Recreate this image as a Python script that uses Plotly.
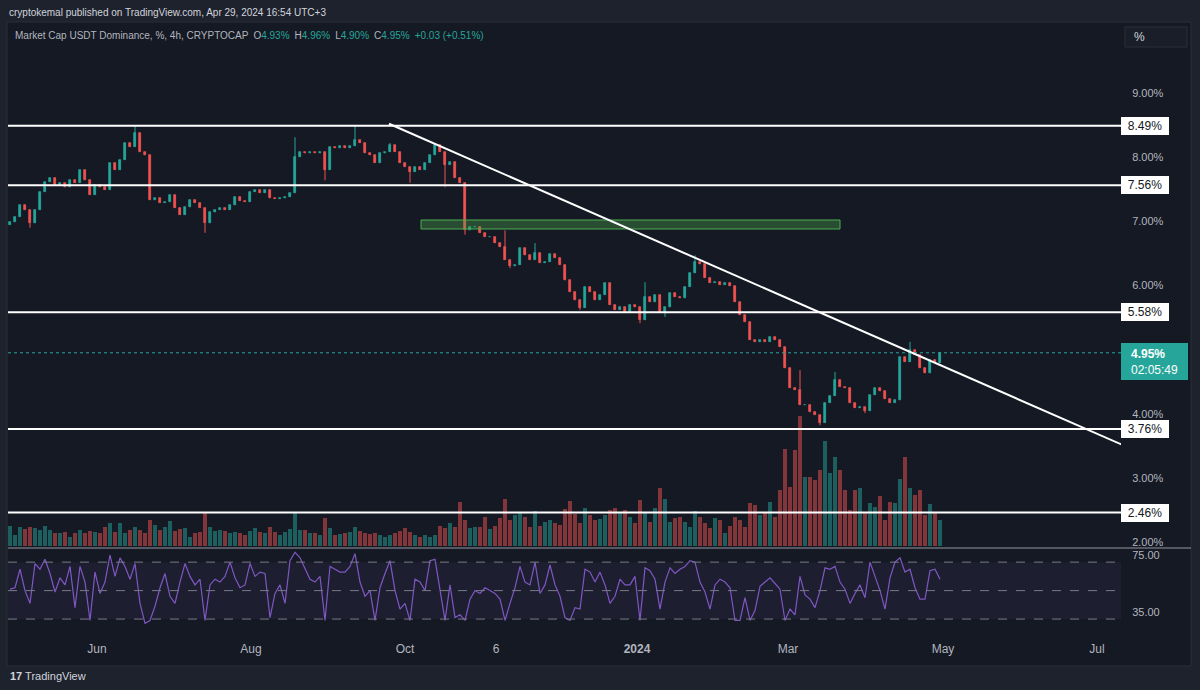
import plotly.graph_objects as go

W, H = 1200, 690
BG = "#151924"
OUTER = "#1e222d"
UP = "#26a69a"
DOWN = "#ef5350"
UP_VOL = "rgba(38,166,154,0.5)"
DOWN_VOL = "rgba(239,83,80,0.5)"
TEXT = "#b2b5be"
FONT = "Liberation Sans, Arial, sans-serif"

# ---------------- data ----------------
first_open = 6.95
closes = [
    6.99, 7.07, 7.25, 7.18, 6.97, 7.18, 7.46, 7.61, 7.68, 7.57,
    7.60, 7.53, 7.64, 7.60, 7.80, 7.64, 7.41, 7.57, 7.53, 7.49,
    7.91, 7.80, 7.96, 8.22, 8.16, 8.38, 8.08, 8.03, 7.33, 7.36,
    7.29, 7.30, 7.41, 7.21, 7.10, 7.22, 7.33, 7.29, 7.21, 6.97,
    7.14, 7.18, 7.21, 7.18, 7.25, 7.38, 7.32, 7.30, 7.46, 7.49,
    7.44, 7.49, 7.36, 7.35, 7.36, 7.38, 7.44, 8.00, 8.08, 8.06,
    8.08, 8.06, 8.08, 7.80, 8.16, 8.14, 8.17, 8.14, 8.17, 8.27,
    8.22, 8.06, 8.03, 7.91, 8.06, 8.08, 8.19, 8.08, 7.91, 7.85,
    7.77, 7.85, 7.80, 7.91, 8.03, 8.19, 8.08, 7.88, 7.92, 7.68,
    7.60, 6.86, 6.91, 6.91, 6.82, 6.76, 6.76, 6.66, 6.60, 6.40,
    6.30, 6.32, 6.58, 6.47, 6.40, 6.51, 6.35, 6.37, 6.49, 6.43,
    6.32, 6.08, 5.90, 5.77, 5.65, 5.98, 5.90, 5.77, 5.85, 6.04,
    5.70, 5.62, 5.66, 5.59, 5.70, 5.66, 5.46, 5.82, 5.74, 5.85,
    5.59, 5.66, 5.88, 5.82, 5.80, 5.98, 6.19, 6.37, 6.33, 6.12,
    6.04, 6.05, 6.01, 6.04, 5.99, 5.74, 5.54, 5.43, 5.15, 5.12,
    5.15, 5.12, 5.20, 5.15, 5.04, 4.71, 4.40, 4.37, 4.14, 4.14,
    4.03, 3.98, 3.86, 4.17, 4.28, 4.53, 4.42, 4.40, 4.17, 4.09,
    4.10, 4.04, 4.29, 4.40, 4.35, 4.23, 4.17, 4.21, 4.88, 4.81,
    4.99, 4.92, 4.71, 4.63, 4.84, 4.79, 4.95,
]
wick_highs = {25: 8.50, 57: 8.31, 69: 8.50, 76: 8.22, 85: 8.22, 99: 6.86,
              105: 6.66, 127: 6.05, 137: 6.47, 158: 4.68, 165: 4.65, 180: 5.12}
wick_lows = {4: 6.90, 39: 6.82, 63: 7.64, 80: 7.60, 87: 7.53, 91: 6.79,
             100: 6.27, 114: 5.62, 126: 5.41, 131: 5.51, 162: 3.82, 171: 4.01}
volumes = [
    20, 11, 19, 17, 19, 18, 16, 20, 16, 13,
    13, 14, 9, 13, 16, 13, 15, 14, 13, 19,
    23, 14, 23, 13, 16, 19, 16, 13, 26, 21,
    16, 19, 25, 15, 17, 18, 9, 13, 14, 33,
    19, 15, 16, 15, 13, 14, 13, 11, 15, 18,
    14, 13, 19, 14, 11, 14, 17, 34, 16, 16,
    13, 13, 11, 28, 18, 11, 12, 13, 14, 19,
    15, 13, 12, 13, 11, 9, 11, 13, 15, 18,
    14, 11, 9, 11, 9, 11, 20, 18, 23, 19,
    44, 26, 18, 19,
    19, 29, 17, 20, 28, 47, 26, 31, 34, 29,
    19, 35, 20, 24, 26, 23, 21, 37, 45, 32,
    23, 38, 31, 26, 27, 31, 36, 38, 34, 36,
    29, 23, 46, 34, 24, 38, 58, 47, 24, 28,
    29, 24, 19, 35, 29, 23, 18, 28, 26, 13,
    20, 29, 26,
    19, 43, 41, 31, 33, 44, 29, 56, 97, 59,
    96, 130, 69, 69, 66, 76, 105, 73, 89, 76,
    56, 36, 56, 58, 34, 43, 39, 50, 26, 44,
    43, 67, 89, 58, 51, 56, 31, 42, 34, 26,
]
rsi = [
    51, 52, 65, 50, 41, 69, 65, 72, 62, 49,
    59, 54, 67, 38, 67, 56, 29, 63, 48, 56,
    75, 60, 73, 67, 58, 69, 41, 27, 29, 39,
    52, 62, 46, 41, 56, 69, 60, 54, 58, 29,
    54, 58, 56, 60, 70, 59, 52, 54, 69, 60,
    63, 62, 31, 48, 54, 41, 71, 77, 73, 65,
    58, 56, 60, 29, 67, 65, 63, 63, 67, 76,
    56, 46, 50, 29, 52, 62, 71, 50, 37, 41,
    29, 58, 56, 50, 71, 72, 49, 29, 54, 31,
    33, 29, 44, 50, 48, 52, 50, 48, 44, 29,
    41, 52, 67, 56, 54, 70, 48, 54, 68, 54,
    46, 31, 29, 38, 37, 65, 63, 56, 63, 54,
    41, 46, 58, 54, 54, 60, 29, 66, 64, 58,
    37, 56, 66, 62, 65, 67, 71, 70, 56, 49,
    37, 54, 58, 56, 52, 29, 29, 45, 29, 36,
    53, 56, 59, 55, 51, 29, 37, 33, 60, 47,
    44, 38, 50, 66, 65, 67, 56, 51, 41, 48,
    54, 45, 70, 60, 50, 37, 59, 70, 73, 63,
    65, 52, 44, 44, 64, 65, 58,
]
levels = [8.49, 7.56, 5.58, 3.76, 2.46]
trend_points = [(75.8, 8.52), (222.6, 3.51)]
zone_x = [82.2, 166.0]
zone_y = [6.88, 7.02]
price_ticks = [2, 3, 4, 6, 7, 8, 9]
rsi_ticks = [75, 35]
rsi_levels = [70, 50, 30]
x_tick_pos = [17.4, 48.2, 79.0, 97.2, 125.4, 155.6, 186.6, 217.4]
x_tick_labels = ["Jun", "Aug", "Oct", "6", "<b>2024</b>", "Mar", "May", "Jul"]
ohlc_last = {"O": "4.93%", "H": "4.96%", "L": "4.90%", "C": "4.95%"}
change_text = "+0.03 (+0.51%)"
countdown = "02:05:49"

# ---------------- derived series ----------------
n = len(closes)
idx = list(range(n))
opens = [first_open] + closes[:-1]
highs = [max(o, c) for o, c in zip(opens, closes)]
lows = [min(o, c) for o, c in zip(opens, closes)]
for k, v in wick_highs.items():
    highs[k] = max(highs[k], v)
for k, v in wick_lows.items():
    lows[k] = min(lows[k], v)
is_up = [c >= o for o, c in zip(opens, closes)]
vol_colors = [UP_VOL if u else DOWN_VOL for u in is_up]
body_colors = [UP if u else DOWN for u in is_up]
last_close = closes[-1]


def wick_xy(up_flag):
    xs, ys = [], []
    for i in idx:
        if is_up[i] == up_flag:
            xs += [i, i, None]
            ys += [lows[i], highs[i], None]
    return xs, ys


def fx(p):
    return p / W


def fy(p):
    return 1 - p / H


PLOT_L, PLOT_R = 8, 1121
PRICE_T, PRICE_B, RSI_B = 22, 548, 628
x_dom = [fx(PLOT_L), fx(PLOT_R)]
x_range = [-0.4, 222.2]

fig = go.Figure()
# volume (base axis, drawn beneath price)
fig.add_trace(go.Bar(x=idx, y=volumes, marker=dict(color=vol_colors, line=dict(width=0)),
                     width=0.8, xaxis="x", yaxis="y"))
# candle wicks
for flag, col in ((True, UP), (False, DOWN)):
    wx, wy = wick_xy(flag)
    fig.add_trace(go.Scatter(x=wx, y=wy, mode="lines", line=dict(color=col, width=1),
                             xaxis="x", yaxis="y3", connectgaps=False))
# candle bodies
fig.add_trace(go.Bar(x=idx, y=[c - o for o, c in zip(opens, closes)], base=opens, width=0.5,
                     marker=dict(color=body_colors, line=dict(color=body_colors, width=0.7)),
                     xaxis="x", yaxis="y3"))
# RSI
fig.add_trace(go.Scatter(x=idx, y=rsi, mode="lines", line=dict(color="#7e57c2", width=1.2),
                         xaxis="x2", yaxis="y2"))

shapes = [
    dict(type="rect", xref="paper", yref="paper", x0=fx(7), x1=fx(1191), y0=fy(666), y1=fy(22),
         fillcolor=BG, line=dict(color="#2a2e39", width=1), layer="below"),
    dict(type="rect", xref="x2 domain", yref="y2", x0=0, x1=1, y0=rsi_levels[2], y1=rsi_levels[0],
         fillcolor="rgba(126,87,194,0.09)", line=dict(width=0), layer="below"),
    dict(type="line", xref="paper", yref="paper", x0=fx(PLOT_L), x1=fx(1191), y0=fy(PRICE_B), y1=fy(PRICE_B),
         line=dict(color="#9598a1", width=1)),
    dict(type="rect", xref="paper", yref="paper", x0=fx(1125), x1=fx(1187), y0=fy(47), y1=fy(27),
         fillcolor="#1a1e29", line=dict(color="#2a2e39", width=1)),
    dict(type="rect", xref="paper", yref="paper", x0=fx(1121), x1=fx(1188), y0=fy(380), y1=fy(343),
         fillcolor=UP, line=dict(width=0)),
]
for lv in rsi_levels:
    shapes.append(dict(type="line", xref="x2 domain", yref="y2", x0=0, x1=1, y0=lv, y1=lv,
                       line=dict(color="#787b86", width=1, dash="dash")))
shapes.append(dict(type="line", xref="x domain", yref="y3", x0=0, x1=1, y0=last_close, y1=last_close,
                   line=dict(color=UP, width=1, dash="dot")))
for lv in levels:
    shapes.append(dict(type="line", xref="x domain", yref="y3", x0=0, x1=1, y0=lv, y1=lv,
                       line=dict(color="#ffffff", width=2)))
shapes.append(dict(type="rect", xref="x", yref="y3", x0=zone_x[0], x1=zone_x[1], y0=zone_y[0], y1=zone_y[1],
                   fillcolor="rgba(76,175,80,0.35)", line=dict(color="#4caf50", width=1)))
shapes.append(dict(type="line", xref="x", yref="y3", x0=trend_points[0][0], y0=trend_points[0][1],
                   x1=trend_points[1][0], y1=trend_points[1][1], line=dict(color="#ffffff", width=2)))

g = "style='color:%s'" % UP
gap = "\u2002"
legend = ("Market Cap USDT Dominance, %, 4h, CRYPTOCAP" + gap
          + gap.join(f"{k}<span {g}>{v}</span>" for k, v in ohlc_last.items())
          + f"{gap}<span {g}>{change_text}</span>")

annotations = [
    dict(xref="paper", yref="paper", x=fx(7), y=fy(12), xanchor="left", yanchor="middle", showarrow=False,
         text="cryptokemal published on TradingView.com, Apr 29, 2024 16:54 UTC+3",
         font=dict(family=FONT, size=10, color="#d1d4dc")),
    dict(xref="paper", yref="paper", x=fx(13), y=fy(35), xanchor="left", yanchor="middle", showarrow=False,
         text=legend, font=dict(family=FONT, size=10, color=TEXT)),
    dict(xref="paper", yref="paper", x=fx(1132), y=fy(37), xanchor="left", yanchor="middle", showarrow=False,
         text="%", font=dict(family=FONT, size=12, color="#d1d4dc")),
    dict(xref="paper", yref="paper", x=fx(1129), y=fy(361.5), xanchor="left", yanchor="middle", showarrow=False,
         align="left", text=f"<b>{last_close:.2f}%</b><br>{countdown}",
         font=dict(family=FONT, size=12, color="#ffffff")),
    dict(xref="paper", yref="paper", x=fx(8), y=fy(676), xanchor="left", yanchor="middle", showarrow=False,
         text="<b>17</b> TradingView", font=dict(family=FONT, size=11, color="#d1d4dc")),
]
for lv in levels:
    annotations.append(dict(xref="paper", yref="y3", x=fx(PLOT_R), y=lv, xanchor="left", yanchor="middle",
                            showarrow=False, text=f"{lv:.2f}%", bgcolor="#ffffff", bordercolor="#ffffff",
                            borderwidth=1, borderpad=1, width=44, height=14,
                            font=dict(family=FONT, size=12, color="#131722")))

axis_common = dict(showgrid=False, zeroline=False, showline=False)
fig.update_layout(
    width=W, height=H, margin=dict(l=0, r=0, t=0, b=0),
    paper_bgcolor=OUTER, plot_bgcolor="rgba(0,0,0,0)",
    showlegend=False, hovermode=False, dragmode=False, barmode="overlay", bargap=0,
    xaxis=dict(domain=x_dom, range=x_range, anchor="y", showticklabels=False, **axis_common),
    xaxis2=dict(domain=x_dom, range=x_range, anchor="y2", matches="x",
                tickmode="array", tickvals=x_tick_pos, ticktext=x_tick_labels,
                ticks="outside", ticklen=10, tickcolor="rgba(0,0,0,0)",
                tickfont=dict(family=FONT, size=12, color=TEXT), **axis_common),
    yaxis=dict(domain=[fy(PRICE_B), fy(PRICE_T)], range=[-2, 524], visible=False, anchor="x"),
    yaxis3=dict(overlaying="y", side="right", anchor="x", range=[1.9065, 10.107],
                tickmode="array", tickvals=price_ticks, ticktext=[f"{v:.2f}%" for v in price_ticks],
                ticks="outside", ticklen=8, tickcolor="rgba(0,0,0,0)",
                tickfont=dict(family=FONT, size=11, color=TEXT), **axis_common),
    yaxis2=dict(domain=[fy(RSI_B), fy(PRICE_B)], range=[23.71, 79.94], side="right", anchor="x2",
                tickmode="array", tickvals=rsi_ticks, ticktext=[f"{v:.2f}" for v in rsi_ticks],
                ticks="outside", ticklen=8, tickcolor="rgba(0,0,0,0)",
                tickfont=dict(family=FONT, size=11, color=TEXT), **axis_common),
    shapes=shapes, annotations=annotations,
)

fig.write_html("out.html")
